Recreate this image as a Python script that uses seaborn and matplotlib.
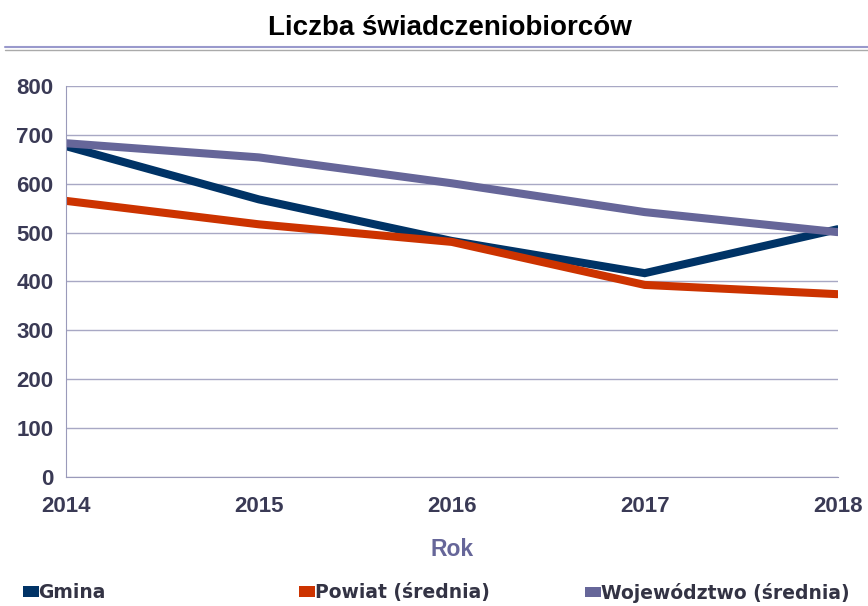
import pandas as pd
import seaborn as sns
import matplotlib.pyplot as plt
from matplotlib.lines import Line2D
from matplotlib.patches import Patch

years = [2014, 2015, 2016, 2017, 2018]
gmina = [677, 568, 483, 417, 507]
powiat = [565, 517, 481, 393, 374]
wojewodztwo = [683, 654, 601, 542, 501]

series_names = ["Gmina", "Powiat (średnia)", "Województwo (średnia)"]
colors = ["#003366", "#CC3300", "#666699"]

df = pd.DataFrame({
    "Rok": years * 3,
    "value": gmina + powiat + wojewodztwo,
    "seria": [series_names[0]] * 5 + [series_names[1]] * 5 + [series_names[2]] * 5,
})

sns.set_style("white")
plt.rcParams['font.family'] = ['Liberation Sans', 'DejaVu Sans']

fig = plt.figure(figsize=(8.68, 6.06), dpi=100)
ax = fig.add_axes([0.076, 0.213, 0.889, 0.645])

sns.lineplot(data=df, x="Rok", y="value", hue="seria", palette=colors,
             linewidth=5.8, ax=ax, legend=False, solid_joinstyle="miter")

ax.set_xlim(2014, 2018)
ax.set_ylim(0, 800)
ax.set_xticks(years)
ax.set_yticks(range(0, 801, 100))
ax.yaxis.grid(True, color="#A8A8C4", linewidth=1)
ax.xaxis.grid(False)
for s in ["top", "right"]:
    ax.spines[s].set_visible(False)
ax.spines["left"].set_color("#9A9ABA")
ax.spines["bottom"].set_color("#9A9ABA")
ax.tick_params(axis="both", length=0, labelsize=16, labelcolor="#3A3A55")
ax.tick_params(axis="y", pad=9)
ax.tick_params(axis="x", pad=14)
for lab in ax.get_xticklabels() + ax.get_yticklabels():
    lab.set_fontweight("bold")
ax.set_ylabel("")
ax.set_xlabel("Rok", fontsize=16.5, fontweight="bold", color="#666699", labelpad=15)

fig.text(0.518, 0.953, "Liczba świadczeniobiorców", ha="center", va="center",
         fontsize=20, fontweight="bold", color="black")
fig.add_artist(Line2D([0.006, 1.0], [0.922, 0.922], color="#9999CC", linewidth=1.5))
fig.add_artist(Line2D([0.006, 1.0], [0.917, 0.917], color="#AAAAAA", linewidth=1))

leg_x = [0.026, 0.345, 0.674]
for name, c, x in zip(series_names, colors, leg_x):
    h = Patch(facecolor=c, edgecolor="none")
    lg = fig.legend(handles=[h], labels=[name], loc="center left",
                    bbox_to_anchor=(x, 0.022), frameon=False, borderpad=0,
                    borderaxespad=0, handletextpad=0.0, handlelength=0.85,
                    handleheight=0.5,
                    prop={"weight": "bold", "size": 13.5, "family": ["DejaVu Sans"]})
    for t in lg.get_texts():
        t.set_color("#333344")

fig.savefig("out.png", dpi=100)
